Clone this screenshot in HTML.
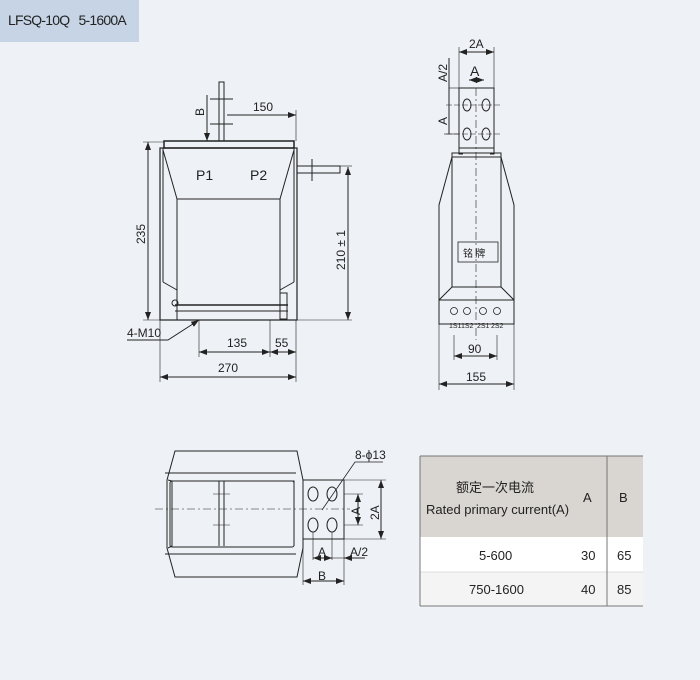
<!DOCTYPE html>
<html><head><meta charset="utf-8"><style>
body{margin:0;background:#eef1f6;}
.wrap{position:relative;width:700px;height:680px;background:#eef1f6;overflow:hidden;font-family:"Liberation Sans","Noto Sans CJK SC",sans-serif;}
.hdr{position:absolute;left:0;top:0;width:139px;height:42px;background:#c6d4e6;}
.hdr span{position:absolute;left:8px;top:12px;font-size:14px;color:#222;letter-spacing:-0.8px;white-space:nowrap;}
</style></head><body><div class="wrap">
<div class="hdr"><span>LFSQ-10Q&nbsp;&nbsp;&nbsp;5-1600A</span></div>
<svg width="700" height="680" style="position:absolute;left:0;top:0" font-family="Liberation Sans, sans-serif" font-size="12" fill="none" stroke="#222" stroke-width="1">
<defs><marker id="a" markerWidth="8" markerHeight="6" refX="8" refY="3" orient="auto-start-reverse"><path d="M0,0L8,3L0,6z" fill="#222" stroke="none"/></marker></defs>
<rect x="164" y="141" width="130" height="7" stroke-width="1.5"/>
<rect x="160" y="148" width="137" height="172" stroke-width="1.2"/>
<line x1="163" y1="148" x2="163" y2="282"/>
<line x1="294" y1="148" x2="294" y2="282"/>
<path d="M163,150 L177,199 L280,199 L294,150"/>
<line x1="177" y1="199" x2="177" y2="320"/><line x1="280" y1="199" x2="280" y2="320"/>
<path d="M163,282 L177,290 M294,282 L280,290"/>
<line x1="175" y1="305" x2="288" y2="305" stroke-width="1.5"/>
<line x1="175" y1="311" x2="288" y2="311"/>
<path d="M280,293 h7 v26 h-7"/>
<circle cx="175" cy="303" r="3"/>
<rect x="219" y="82" width="5" height="59"/>
<line x1="210" y1="99" x2="233" y2="99"/><line x1="210" y1="124" x2="233" y2="124"/>
<rect x="297" y="166" width="43" height="7"/>
<line x1="312" y1="159" x2="312" y2="181"/>
<g font-size="14" fill="#222" stroke="none"><text x="196" y="180">P1</text><text x="250" y="180">P2</text></g>
<line x1="148" y1="142" x2="148" y2="320" marker-start="url(#a)" marker-end="url(#a)"/>
<line x1="143" y1="142" x2="164" y2="142" stroke-width="0.6"/>
<line x1="143" y1="320" x2="180" y2="320" stroke-width="0.6"/>
<line x1="348" y1="167" x2="348" y2="320" marker-start="url(#a)" marker-end="url(#a)"/>
<line x1="297" y1="320" x2="352" y2="320" stroke-width="0.6"/>
<line x1="340" y1="166" x2="352" y2="166" stroke-width="0.6"/>
<line x1="227" y1="115" x2="296" y2="115" marker-end="url(#a)"/>
<line x1="296" y1="110" x2="296" y2="141" stroke-width="0.6"/>
<line x1="207" y1="95" x2="207" y2="141" marker-end="url(#a)"/>
<line x1="199" y1="320" x2="199" y2="357" stroke-width="0.6"/>
<line x1="270" y1="320" x2="270" y2="357" stroke-width="0.6"/>
<line x1="296" y1="320" x2="296" y2="382" stroke-width="0.6"/>
<line x1="160" y1="320" x2="160" y2="382" stroke-width="0.6"/>
<line x1="199" y1="352" x2="270" y2="352" marker-start="url(#a)" marker-end="url(#a)"/>
<line x1="270" y1="352" x2="296" y2="352" marker-start="url(#a)" marker-end="url(#a)"/>
<line x1="160" y1="377" x2="296" y2="377" marker-start="url(#a)" marker-end="url(#a)"/>
<path d="M127,340 H168 L199,320" marker-end="url(#a)"/>
<g fill="#222" stroke="none" font-size="12">
<text x="253" y="111">150</text><text x="227" y="347">135</text><text x="275" y="347">55</text><text x="218" y="372">270</text><text x="127" y="337">4-M10</text>
<text transform="translate(145,244) rotate(-90)">235</text>
<text transform="translate(345,270) rotate(-90)">210 ± 1</text>
<text transform="translate(204,116) rotate(-90)">B</text>
</g>
<rect x="459" y="88" width="35" height="60"/>
<path d="M459,148 v6 h4 M494,148 v6 h-4"/>
<ellipse cx="467" cy="105" rx="4" ry="6"/><ellipse cx="486" cy="105" rx="4" ry="6"/>
<ellipse cx="467" cy="134" rx="4" ry="6"/><ellipse cx="486" cy="134" rx="4" ry="6"/>
<line x1="446" y1="105" x2="502" y2="105" stroke-dasharray="6,2" stroke-width="0.6"/>
<line x1="446" y1="134" x2="502" y2="134" stroke-dasharray="6,2" stroke-width="0.6"/>
<rect x="452" y="153" width="49" height="4"/>
<path d="M452,157 L439,205 L439,300 M501,157 L514,205 L514,300"/>
<rect x="452" y="157" width="49" height="130"/>
<path d="M452,287 L439,300 M501,287 L514,300"/>
<rect x="439" y="300" width="75" height="24"/>
<rect x="458" y="242" width="40" height="20" stroke-width="0.8"/>
<line x1="476" y1="88" x2="476" y2="340" stroke-dasharray="8,3,2,3" stroke-width="0.6"/>
<g stroke-width="0.8"><circle cx="454" cy="311" r="3.5"/><circle cx="467" cy="311" r="3.5"/><circle cx="483" cy="311" r="3.5"/><circle cx="497" cy="311" r="3.5"/></g>
<g fill="#222" stroke="none" font-size="7"><text x="449" y="328">1S1</text><text x="461" y="328">1S2</text><text x="477" y="328">2S1</text><text x="491" y="328">2S2</text></g>
<text x="463" y="257" fill="#222" stroke="none" font-size="10" font-family="Noto Sans CJK SC, sans-serif">铭 牌</text>
<line x1="459" y1="52" x2="494" y2="52" marker-start="url(#a)" marker-end="url(#a)"/>
<line x1="459" y1="47" x2="459" y2="88" stroke-width="0.6"/><line x1="494" y1="47" x2="494" y2="88" stroke-width="0.6"/>
<line x1="469" y1="80" x2="484" y2="80" marker-start="url(#a)" marker-end="url(#a)"/>
<line x1="449" y1="88" x2="459" y2="88" stroke-width="0.6"/>
<line x1="449" y1="58" x2="449" y2="134"/>
<line x1="444" y1="134" x2="459" y2="134" stroke-width="0.6"/>
<line x1="454" y1="335" x2="454" y2="360" stroke-width="0.6"/><line x1="497" y1="335" x2="497" y2="360" stroke-width="0.6"/>
<line x1="454" y1="356" x2="497" y2="356" marker-start="url(#a)" marker-end="url(#a)"/>
<line x1="439" y1="324" x2="439" y2="390" stroke-width="0.6"/><line x1="514" y1="324" x2="514" y2="390" stroke-width="0.6"/>
<line x1="439" y1="384" x2="514" y2="384" marker-start="url(#a)" marker-end="url(#a)"/>
<g fill="#222" stroke="none" font-size="12">
<text x="469" y="48">2A</text><text x="470" y="76" font-size="14">A</text><text x="468" y="353">90</text><text x="466" y="381">155</text>
<text transform="translate(447,82) rotate(-90)">A/2</text><text transform="translate(447,125) rotate(-90)">A</text>
</g>
<path d="M175,451 L297,451 L303,480 L303,548 L297,577 L175,577 L167,548 L167,480 Z"/>
<line x1="165" y1="473" x2="296" y2="473"/><line x1="165" y1="554" x2="296" y2="554"/>
<path d="M168,480 L172,481 L172,546 L168,548 M293,481 L294,481 L294,546"/>
<rect x="170" y="481" width="124" height="66" rx="2"/>
<line x1="219" y1="481" x2="219" y2="546"/><line x1="224" y1="481" x2="224" y2="546"/>
<line x1="213" y1="494" x2="230" y2="494" stroke-width="0.6"/><line x1="213" y1="525" x2="230" y2="525" stroke-width="0.6"/>
<line x1="155" y1="509" x2="350" y2="509" stroke-dasharray="8,3,2,3" stroke-width="0.6"/>
<rect x="303" y="480" width="41" height="59"/>
<ellipse cx="313" cy="494" rx="5" ry="7"/><ellipse cx="332" cy="494" rx="5" ry="7"/>
<ellipse cx="313" cy="525" rx="5" ry="7"/><ellipse cx="332" cy="525" rx="5" ry="7"/>
<line x1="344" y1="494" x2="363" y2="494" stroke-width="0.6"/><line x1="344" y1="525" x2="363" y2="525" stroke-width="0.6"/>
<line x1="358" y1="494" x2="358" y2="525" marker-start="url(#a)" marker-end="url(#a)"/>
<line x1="344" y1="480" x2="386" y2="480" stroke-width="0.6"/><line x1="344" y1="539" x2="386" y2="539" stroke-width="0.6"/>
<line x1="381" y1="480" x2="381" y2="539" marker-start="url(#a)" marker-end="url(#a)"/>
<line x1="313" y1="532" x2="313" y2="560" stroke-width="0.6"/><line x1="332" y1="532" x2="332" y2="560" stroke-width="0.6"/>
<line x1="344" y1="539" x2="344" y2="585" stroke-width="0.6"/><line x1="303" y1="539" x2="303" y2="585" stroke-width="0.6"/>
<line x1="313" y1="558" x2="332" y2="558" marker-start="url(#a)" marker-end="url(#a)"/>
<line x1="332" y1="558" x2="344" y2="558" stroke-width="0.6"/><line x1="365" y1="558" x2="344" y2="558" marker-end="url(#a)"/>
<line x1="303" y1="581" x2="344" y2="581" marker-start="url(#a)" marker-end="url(#a)"/>
<path d="M383,462 H355 L322,510" stroke-width="0.8"/>
<g fill="#222" stroke="none" font-size="12">
<text x="355" y="459">8-ϕ13</text><text x="318" y="556">A</text><text x="350" y="556">A/2</text><text x="318" y="580">B</text>
<text transform="translate(360,515) rotate(-90)">A</text><text transform="translate(379,520) rotate(-90)">2A</text>
</g>
<rect x="420" y="456" width="223" height="81" fill="#d9d6d1" stroke="none"/>
<rect x="420" y="537" width="223" height="35" fill="#ffffff" stroke="none"/>
<rect x="420" y="572" width="223" height="34" fill="#f4f4f5" stroke="none"/>
<line x1="420" y1="572" x2="643" y2="572" stroke="#ddd"/>
<line x1="420" y1="456" x2="643" y2="456" stroke="#777"/>
<line x1="420" y1="456" x2="420" y2="606" stroke="#777"/>
<line x1="420" y1="606" x2="643" y2="606" stroke="#777"/>
<line x1="607" y1="456" x2="607" y2="606" stroke="#777"/>
<g fill="#222" stroke="none" font-size="13">
<text x="456" y="492" font-family="Liberation Sans, Noto Sans CJK SC, sans-serif">额定一次电流</text>
<text x="426" y="514">Rated primary current(A)</text>
<text x="583" y="502">A</text><text x="619" y="502">B</text>
<text x="479" y="560">5-600</text><text x="581" y="560">30</text><text x="617" y="560">65</text>
<text x="469" y="594">750-1600</text><text x="581" y="594">40</text><text x="617" y="594">85</text>
</g>
</svg>
</div></body></html>
